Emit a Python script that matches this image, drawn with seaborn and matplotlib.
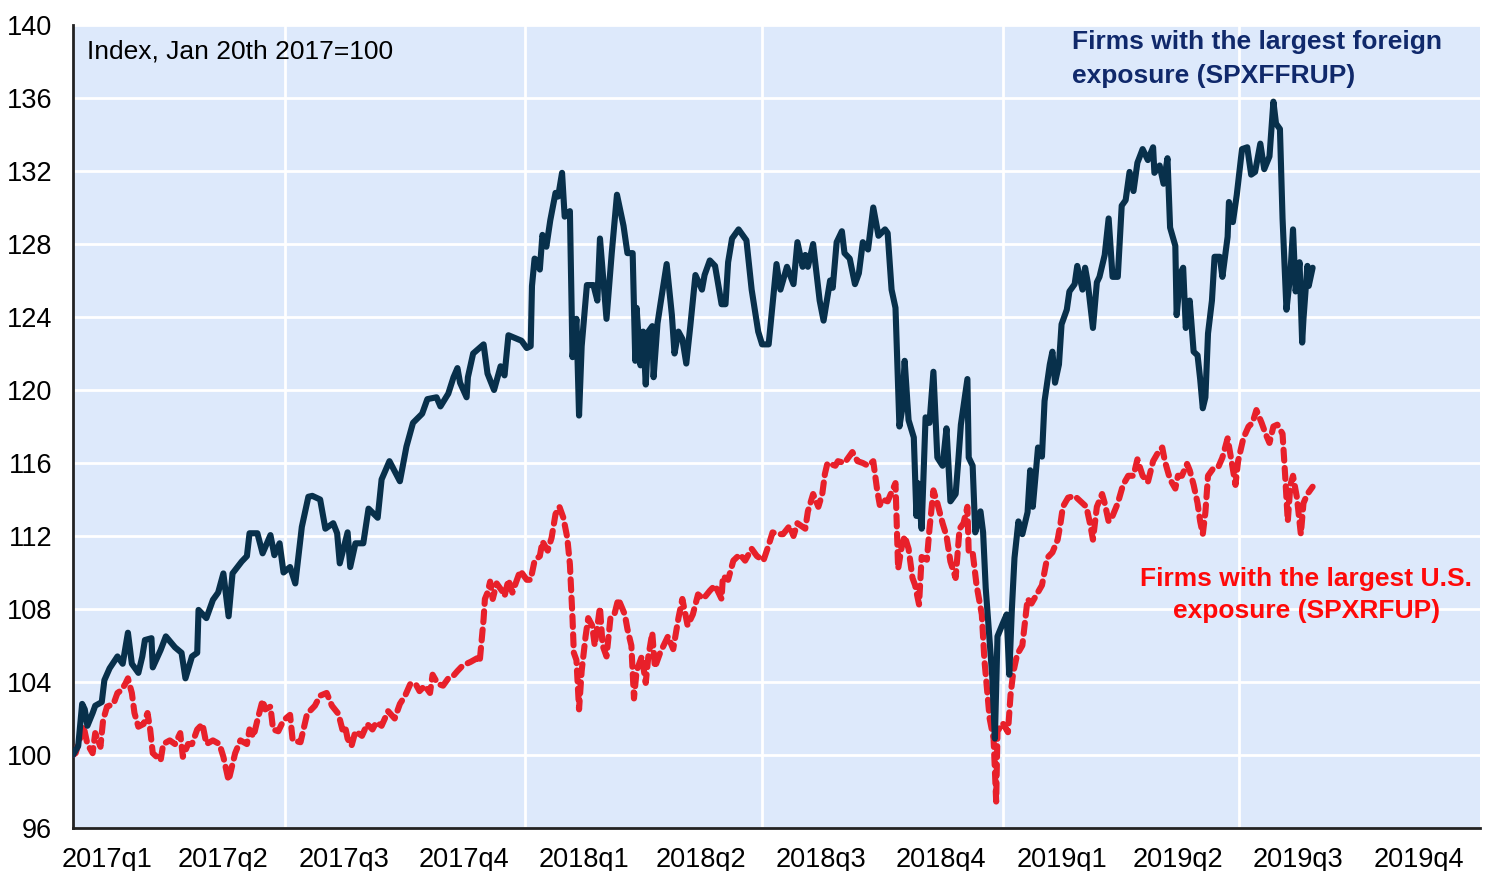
import pandas as pd
import numpy as np
import matplotlib
matplotlib.use("Agg")
import matplotlib.pyplot as plt
import matplotlib.dates as mdates
from matplotlib.ticker import FuncFormatter, NullFormatter
import seaborn as sns

# ─────────────────────────────────────────
# DADOS (índice, 20 jan 2017 = 100; dias contados a partir dessa data)
# ─────────────────────────────────────────
BASE_DATE = "2017-01-20"

foreign_days = [
    0, 4, 7, 9, 11, 15, 17, 22, 24, 28, 34, 38, 42, 45, 50, 53, 55, 60, 61, 67,
    71, 78, 83, 86, 91, 95, 96, 102, 107, 111, 115, 119, 122, 129, 133, 135, 141, 145, 151, 154,
    158, 161, 166, 170, 175, 180, 183, 189, 193, 199, 202, 204, 210, 212, 216, 222, 226, 233, 236, 242,
    250, 255, 260, 267, 271, 278, 281, 287, 291, 294, 296, 301, 302, 306, 314, 317, 322, 327, 330, 333,
    343, 347, 350, 351, 353, 355, 357, 359, 362, 365, 369, 371, 374, 376, 380, 382, 385, 387, 389, 393,
    398, 401, 403, 408, 412, 416, 421, 424, 428, 430, 431, 434, 436, 438, 440, 443, 444, 447, 449, 454,
    458, 460, 463, 466, 469, 472, 476, 481, 483, 487, 491, 496, 499, 501, 504, 509, 515, 519, 524, 527,
    532, 538, 541, 546, 551, 554, 558, 560, 562, 566, 571, 574, 579, 581, 584, 588, 590, 594, 598, 601,
    604, 608, 612, 616, 621, 623, 626, 629, 632, 634, 636, 639, 643, 645, 646, 649, 652, 655, 658, 661,
    665, 668, 671, 675, 677, 679, 684, 685, 688, 690, 694, 696, 698, 703, 705, 707, 711, 714, 716, 718,
    720, 723, 726, 730, 732, 734, 738, 741, 743, 747, 749, 751, 754, 756, 760, 762, 766, 768, 772, 774,
    776, 780, 783, 785, 789, 792, 795, 799, 802, 805, 808, 811, 814, 818, 822, 826, 827, 831, 834, 837,
    839, 843, 844, 847, 849, 851, 854, 857, 860, 862, 864, 866, 868, 871, 873, 877, 879, 883, 884, 887,
    890, 894, 898, 901, 904, 908, 911, 915, 918, 920, 923, 925, 928, 931, 933, 935, 938, 940, 941, 944,
    945, 948,
]
foreign_vals = [
    100.0, 100.5, 102.8, 102.5, 101.6, 102.3, 102.7, 102.9, 104.1, 104.75, 105.4, 105.0, 106.7, 105.0, 104.5, 105.4, 106.3, 106.4, 104.8, 105.75,
    106.5, 105.9, 105.6, 104.2, 105.4, 105.6, 107.95, 107.5, 108.5, 108.9, 109.95, 107.6, 109.95, 110.6, 110.9, 112.15, 112.15, 111.05, 112.05, 110.95,
    111.6, 110.0, 110.3, 109.4, 112.5, 114.15, 114.2, 114.0, 112.4, 112.7, 112.15, 110.5, 112.2, 110.3, 111.6, 111.6, 113.5, 113.0, 115.1, 116.1,
    115.0, 116.9, 118.2, 118.7, 119.5, 119.6, 119.1, 119.8, 120.7, 121.2, 120.4, 119.6, 120.7, 122.0, 122.5, 120.9, 120.0, 121.3, 120.8, 123.0,
    122.7, 122.3, 122.4, 125.7, 127.2, 127.1, 126.6, 128.5, 127.85, 129.3, 130.8, 130.6, 131.9, 129.5, 129.8, 121.8, 123.9, 118.6, 122.4, 125.75,
    125.75, 124.9, 128.3, 123.9, 127.5, 130.7, 129.0, 127.5, 127.5, 121.6, 124.5, 121.35, 123.2, 120.3, 123.2, 123.5, 120.7, 123.65, 124.6, 126.9,
    124.1, 122.0, 123.2, 122.8, 121.45, 123.45, 126.3, 125.5, 126.3, 127.1, 126.8, 124.7, 124.7, 127.0, 128.3, 128.8, 128.2, 125.5, 123.2, 122.5,
    122.5, 126.9, 125.5, 126.75, 125.8, 128.1, 126.75, 127.4, 126.75, 128.0, 124.9, 123.8, 126.0, 125.6, 128.1, 128.7, 127.5, 127.2, 125.8, 126.4,
    128.1, 127.7, 130.0, 128.45, 128.8, 128.6, 125.5, 124.5, 118.0, 118.9, 121.6, 118.35, 117.4, 113.1, 114.9, 112.4, 118.5, 118.2, 121.0, 116.3,
    115.85, 117.9, 113.9, 114.3, 116.1, 118.1, 120.6, 116.3, 115.85, 112.2, 113.35, 112.2, 109.15, 104.3, 100.9, 106.5, 107.2, 107.7, 104.4, 108.0,
    110.8, 112.8, 112.1, 113.3, 115.6, 113.6, 116.85, 116.35, 119.4, 121.4, 122.1, 120.4, 121.4, 123.6, 124.4, 125.4, 125.8, 126.8, 125.5, 126.7,
    125.9, 123.4, 125.9, 126.2, 127.4, 129.4, 126.2, 126.2, 130.1, 130.4, 131.95, 130.9, 132.45, 133.2, 132.6, 133.3, 131.9, 132.3, 131.3, 132.7,
    128.9, 127.9, 124.1, 126.4, 126.7, 123.4, 124.9, 122.1, 121.9, 120.6, 119.0, 119.6, 123.1, 124.9, 127.3, 127.3, 126.2, 128.4, 130.3, 129.2,
    130.7, 133.2, 133.3, 131.8, 131.95, 133.5, 132.1, 132.8, 135.8, 134.6, 134.3, 129.4, 124.4, 126.4, 128.8, 125.4, 127.0, 122.6, 123.9, 126.8,
    125.7, 126.7,
]

us_days = [
    0, 2, 5, 8, 11, 15, 17, 21, 23, 26, 31, 34, 37, 40, 42, 45, 47, 50, 54, 57,
    59, 61, 67, 69, 74, 78, 82, 84, 88, 91, 95, 99, 102, 107, 112, 115, 119, 122, 124, 128,
    133, 135, 138, 141, 145, 147, 151, 153, 157, 161, 166, 168, 174, 179, 185, 189, 194, 198, 203, 206,
    208, 210, 213, 216, 221, 225, 229, 232, 236, 241, 246, 250, 254, 258, 262, 265, 269, 273, 275, 279,
    283, 287, 291, 294, 298, 304, 309, 311, 314, 315, 317, 319, 321, 324, 328, 330, 333, 336, 342, 347,
    350, 353, 357, 359, 363, 366, 369, 372, 375, 378, 380, 382, 383, 385, 387, 389, 392, 394, 397, 399,
    403, 405, 408, 411, 414, 417, 422, 424, 427, 429, 431, 435, 438, 440, 443, 445, 449, 453, 455, 459,
    463, 466, 470, 474, 478, 482, 487, 491, 496, 497, 501, 505, 510, 514, 519, 523, 528, 532, 535, 539,
    543, 548, 551, 554, 560, 562, 566, 570, 573, 575, 577, 583, 585, 590, 596, 600, 604, 608, 612, 615,
    617, 619, 623, 629, 631, 634, 636, 639, 642, 644, 647, 649, 653, 655, 658, 661, 665, 668, 671, 675,
    678, 681, 684, 685, 688, 691, 695, 697, 701, 704, 706, 707, 711, 715, 717, 719, 722, 726, 728, 730,
    733, 737, 741, 745, 749, 753, 755, 757, 761, 766, 772, 775, 778, 780, 783, 787, 789, 792, 795, 799,
    803, 807, 811, 814, 818, 822, 826, 830, 833, 835, 839, 843, 845, 848, 852, 854, 857, 860, 862, 864,
    866, 868, 872, 876, 879, 883, 886, 889, 891, 895, 899, 902, 905, 909, 912, 915, 918, 921, 925, 927,
    929, 931, 933, 936, 939, 941, 944, 948,
]
us_vals = [
    100.0, 100.1, 100.8, 101.6, 100.6, 100.1, 101.2, 100.45, 101.9, 102.65, 102.8, 103.4, 103.55, 103.9, 104.2, 103.4, 102.3, 101.55, 101.7, 102.3,
    101.4, 100.1, 99.7, 100.6, 100.8, 100.6, 101.2, 99.9, 100.6, 100.6, 101.4, 101.7, 100.6, 100.8, 100.6, 99.9, 98.6, 99.5, 100.1, 100.8,
    100.6, 101.4, 101.0, 101.9, 103.0, 102.5, 102.65, 101.4, 101.3, 101.9, 102.2, 100.8, 100.7, 102.25, 102.7, 103.25, 103.4, 102.7, 102.25, 101.4,
    101.6, 100.9, 100.5, 101.3, 101.05, 101.7, 101.4, 101.8, 101.6, 102.4, 102.0, 102.8, 103.25, 103.9, 103.9, 103.5, 103.8, 103.4, 104.4, 103.9,
    103.8, 104.2, 104.35, 104.6, 104.9, 105.1, 105.3, 105.1, 107.45, 108.55, 108.9, 109.5, 108.55, 109.4, 109.0, 108.7, 109.6, 108.9, 110.1, 109.6,
    109.6, 110.65, 110.9, 111.7, 111.2, 111.9, 113.2, 113.6, 113.0, 111.9, 110.45, 107.5, 105.6, 105.2, 102.5, 104.6, 106.5, 107.5, 107.1, 106.0,
    108.1, 106.0, 105.4, 107.5, 107.7, 108.55, 107.7, 106.9, 106.0, 103.1, 104.6, 105.4, 103.95, 105.4, 106.7, 104.8, 105.6, 106.2, 106.5, 105.8,
    107.5, 108.55, 107.1, 107.7, 108.8, 108.55, 109.0, 109.3, 108.55, 109.8, 109.6, 110.65, 111.0, 110.65, 111.3, 110.9, 110.65, 111.5, 112.2, 112.1,
    112.1, 112.55, 112.0, 112.7, 112.4, 113.35, 114.3, 113.6, 114.3, 115.4, 116.0, 115.85, 116.1, 116.0, 116.6, 116.1, 116.0, 115.85, 116.1, 114.5,
    113.7, 114.0, 113.9, 114.9, 110.2, 111.5, 112.0, 111.3, 109.7, 109.3, 108.25, 110.85, 110.7, 112.4, 114.5, 113.8, 112.7, 112.0, 110.6, 109.7,
    112.4, 112.7, 113.6, 111.1, 111.1, 109.3, 107.7, 105.2, 102.0, 100.9, 97.45, 101.3, 101.75, 101.25, 103.3, 104.5, 105.5, 106.0, 107.3, 108.55,
    108.3, 108.8, 109.3, 110.8, 111.1, 111.8, 112.6, 113.6, 114.1, 114.2, 113.8, 113.6, 112.6, 111.8, 113.6, 114.3, 113.8, 112.8, 113.1, 113.8,
    114.8, 115.3, 115.3, 116.2, 115.3, 114.95, 116.1, 116.6, 116.85, 116.1, 115.1, 114.6, 115.3, 115.3, 115.95, 115.6, 114.8, 113.8, 112.8, 112.1,
    113.3, 115.3, 115.7, 115.8, 116.3, 117.35, 116.1, 114.8, 116.1, 117.35, 118.0, 118.2, 118.9, 118.2, 117.6, 117.1, 118.0, 118.1, 117.6, 115.3,
    112.8, 114.8, 115.3, 114.1, 112.1, 113.8, 114.3, 114.7,
]

y_ticks = [96, 100, 104, 108, 112, 116, 120, 124, 128, 132, 136, 140]
note_text = "Index, Jan 20th 2017=100"
foreign_label = "Firms with the largest foreign\nexposure (SPXFFRUP)"
us_label = "Firms with the largest U.S.\nexposure (SPXRFUP)"

# ─────────────────────────────────────────
# ESTILO
# ─────────────────────────────────────────
BG = "#dde9fb"
NAVY_LINE = "#08304b"
NAVY_TEXT = "#10296b"
RED_LINE = "#e8202a"
RED_TEXT = "#ff0a0a"

sns.set_style("white", {"axes.facecolor": BG})
plt.rcParams["font.family"] = ["Liberation Sans", "DejaVu Sans"]

base = pd.Timestamp(BASE_DATE)
df_f = pd.DataFrame({"date": base + pd.to_timedelta(foreign_days, unit="D"),
                     "value": foreign_vals})
df_u = pd.DataFrame({"date": base + pd.to_timedelta(us_days, unit="D"),
                     "value": us_vals})

fig = plt.figure(figsize=(14.89, 8.71), dpi=100)
ax = fig.add_axes([73 / 1489, 1 - 828 / 871, (1480 - 73) / 1489, (828 - 25) / 871])
ax.set_facecolor(BG)

# grade
ax.yaxis.grid(True, color="white", lw=2, zorder=0)
for d in pd.date_range("2017-07-01", "2019-07-01", freq="6MS"):
    ax.axvline(d, color="white", lw=2, zorder=0)
ax.set_axisbelow(True)

sns.lineplot(data=df_u, x="date", y="value", ax=ax, color=RED_LINE, lw=4.4,
             estimator=None, sort=True, zorder=3)
ln = ax.lines[-1]
ln.set_linestyle((0, (1.8, 1.2)))
ln.set_dash_capstyle("round")

sns.lineplot(data=df_f, x="date", y="value", ax=ax, color=NAVY_LINE, lw=4.4,
             estimator=None, sort=True, zorder=4)
ax.lines[-1].set_solid_joinstyle("round")

ax.set_xlim(base, pd.Timestamp("2020-01-01"))
ax.set_ylim(96, 140)
ax.set_yticks(y_ticks)
ax.set_xlabel("")
ax.set_ylabel("")

# eixo x: marcas nas viradas de trimestre, rótulos no meio do trimestre
ax.xaxis.set_major_locator(mdates.MonthLocator(bymonth=[1, 4, 7, 10], bymonthday=1))
ax.xaxis.set_major_formatter(NullFormatter())
ax.xaxis.set_minor_locator(mdates.MonthLocator(bymonth=[2, 5, 8, 11], bymonthday=15))


def rotulo_trimestre(x, pos=None):
    d = mdates.num2date(x)
    return f"{d.year}q{(d.month - 1) // 3 + 1}"


ax.xaxis.set_minor_formatter(FuncFormatter(rotulo_trimestre))
ax.tick_params(axis="x", which="major", length=12, width=1.5, color="#222222", direction="out")
ax.tick_params(axis="x", which="minor", length=0, labelsize=19.5, pad=14, labelcolor="black")
ax.tick_params(axis="y", length=10, width=1.5, color="#222222", direction="out",
               labelsize=19.5, pad=5, labelcolor="black")

for side in ["top", "right"]:
    ax.spines[side].set_visible(False)
for side in ["left", "bottom"]:
    ax.spines[side].set_color("#222222")
    ax.spines[side].set_linewidth(2)

# textos
ax.text(base + pd.Timedelta(days=11), 139.2, note_text, fontsize=19,
        color="black", va="top", ha="left")
ax.text(base + pd.Timedelta(days=764), 139.7, foreign_label, fontsize=19,
        fontweight="bold", color=NAVY_TEXT, va="top", ha="left", linespacing=1.5)
ax.text(base + pd.Timedelta(days=943), 110.3, us_label, fontsize=19,
        fontweight="bold", color=RED_TEXT, va="top", ha="center", linespacing=1.4)

fig.savefig("out.png", dpi=100, facecolor="white")
